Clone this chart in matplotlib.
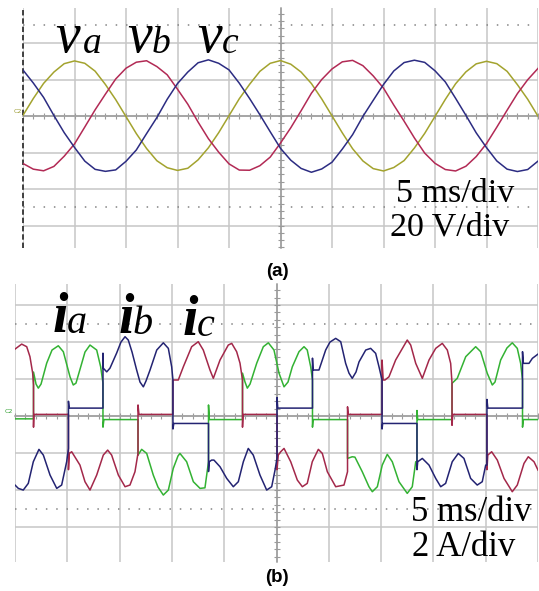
import matplotlib
matplotlib.use("Agg")
import matplotlib.pyplot as plt
from matplotlib.ticker import MultipleLocator

# ---------------- data ----------------
# (a) phase voltages, sampled every 1 ms over 10 divisions (5 ms/div), volts
t_v = list(range(0, 51))
v_a = [0.4, 9.6, 17.9, 24.1, 28.7, 30.2, 28.9, 24.6, 17.3, 9.0, -0.3, -9.6, -17.8, -24.5, -28.3, -29.8, -28.6, -24.0, -17.4, -9.1,
       0.2, 9.5, 17.4, 24.5, 28.9, 30.4, 28.4, 24.1, 17.8, 9.4, 0.1, -9.2, -17.9, -24.6, -28.8, -30.1, -28.2, -24.4, -17.5, -9.5,
       -0.2, 9.1, 17.7, 24.2, 28.6, 30.0, 28.7, 24.5, 17.2, 9.2, -0.1]
v_b = [-26.0, -29.1, -30.0, -27.6, -22.0, -15.3, -6.0, 3.4, 12.0, 20.3, 26.2, 29.5, 30.3, 27.1, 22.6, 14.7, 6.5, -3.3, -12.4, -19.8,
       -26.2, -29.6, -29.7, -27.2, -22.5, -14.8, -6.4, 2.9, 12.5, 20.0, 25.8, 29.7, 30.5, 27.6, 22.0, 15.3, 6.0, -2.8, -12.0, -20.3,
       -25.9, -29.3, -30.1, -27.5, -22.2, -15.1, -6.1, 3.2, 12.3, 19.9, 26.1]
v_c = [25.2, 18.1, 10.2, 0.3, -9.1, -17.2, -24.7, -29.2, -30.3, -29.5, -24.8, -18.6, -9.6, -0.8, 9.2, 17.8, 24.1, 29.2, 30.8, 28.9,
       25.3, 18.0, 9.6, 0.7, -8.6, -17.7, -24.2, -28.7, -30.8, -29.0, -25.3, -18.1, -10.2, -0.2, 8.6, 17.3, 24.7, 29.3, 30.6, 29.4,
       24.8, 18.7, 9.7, 0.4, -9.2, -17.3, -24.6, -29.1, -30.4, -29.3, -24.7]

# (b) phase currents (ms, A); repeated times are the switching edges
t_ia = [0.00, 1.77, 1.77, 2.01, 2.23, 2.49, 3.03, 3.54, 4.14, 4.62, 5.26, 5.57, 5.83, 6.38, 6.69, 7.17, 7.81, 8.19, 8.41, 8.41, 8.50,
        11.76, 11.76, 12.11, 12.59, 13.22, 13.67, 14.18, 14.66, 15.13, 15.58, 15.77, 16.41, 17.05, 17.69, 18.16, 18.50, 18.50, 18.58,
        21.75, 21.75, 21.99, 22.21, 22.47, 23.11, 23.74, 24.22, 24.76, 25.24, 25.72, 26.10, 26.51, 27.15, 27.63, 27.94, 28.27, 28.44, 28.44, 28.50,
        31.79, 31.79, 32.24, 32.50, 33.20, 33.84, 34.16, 34.64, 35.11, 35.59, 36.07, 36.71, 37.50, 37.98, 38.31, 38.43, 38.43, 38.50,
        41.78, 41.78, 42.28, 43.09, 44.04, 44.52, 45.15, 45.63, 45.89, 46.43, 47.03, 47.54, 48.02, 48.34, 48.52, 48.52, 48.60, 50.00]
i_a = [-0.15, -0.15, 2.38, 1.73, 1.51, 1.73, 2.86, 3.57, 3.80, 3.48, 2.12, 1.68, 1.78, 2.85, 3.46, 3.84, 3.57, 2.66, 1.78, -0.60, -0.19,
       -0.19, -2.11, -1.80, -2.02, -3.19, -3.84, -4.27, -4.00, -2.83, -2.16, -2.02, -2.47, -3.55, -3.91, -3.88, -2.47, 0.60, -0.19,
       -0.19, 2.32, 1.84, 1.51, 1.73, 2.86, 3.75, 3.96, 3.57, 2.32, 1.58, 1.84, 2.66, 3.48, 3.75, 3.57, 2.66, 1.95, -0.60, -0.19,
       -0.19, -2.29, -2.20, -2.22, -3.01, -3.82, -4.09, -3.82, -2.65, -2.07, -2.47, -3.55, -4.18, -3.82, -2.47, -2.47, 0.30, -0.19,
       -0.19, 1.77, 2.04, 3.21, 3.75, 3.48, 2.31, 1.68, 1.84, 3.03, 3.68, 3.96, 3.66, 2.85, 1.95, -0.60, -0.19, -0.19]

t_ib = [0.00, 0.32, 0.79, 1.27, 1.75, 2.29, 2.71, 3.35, 3.99, 4.46, 4.94, 5.11, 5.11, 5.18,
        8.41, 8.41, 8.44, 8.77, 9.08, 9.72, 10.13, 10.52, 10.83, 11.19, 11.63, 11.95, 12.27, 12.52, 12.91, 13.55, 14.18, 14.66, 14.98, 15.10, 15.10, 15.18,
        18.50, 18.50, 18.57, 18.80, 19.02, 19.60, 20.24, 20.87, 21.35, 21.83, 22.30, 22.78, 23.42, 24.06, 24.54, 24.86, 25.05, 25.05, 25.12,
        28.44, 28.44, 28.50, 29.06, 29.70, 30.11, 30.66, 31.14, 31.61, 31.93, 32.24, 32.60, 32.89, 33.53, 34.00, 34.48, 34.80, 35.09, 35.09, 35.15,
        38.43, 38.43, 38.50, 38.94, 39.58, 40.22, 40.70, 41.17, 41.80, 42.38, 42.92, 43.56, 44.19, 44.67, 45.00, 45.12, 45.12, 45.20,
        48.52, 48.52, 48.60, 49.14, 49.46, 50.00]
i_b = [-3.73, -3.91, -4.00, -3.64, -2.47, -1.80, -2.11, -3.19, -3.91, -3.73, -2.47, -1.75, 0.80, 0.43,
       0.43, 3.40, 2.59, 2.39, 2.59, 3.41, 4.00, 4.29, 4.11, 3.46, 2.49, 1.84, 1.58, 1.89, 2.49, 3.57, 3.96, 3.66, 2.66, 1.95, -0.70, -0.40,
       -0.40, -3.00, -2.47, -2.38, -2.38, -2.74, -3.37, -3.82, -3.55, -2.47, -1.75, -2.11, -3.19, -4.00, -3.82, -2.92, -2.27, 1.00, 0.43,
       0.43, 3.13, 2.49, 2.49, 3.57, 4.00, 4.20, 4.02, 2.85, 2.32, 2.04, 2.38, 2.93, 3.57, 3.66, 3.39, 2.66, 1.95, -0.70, -0.40,
       -0.40, -2.90, -2.47, -2.29, -2.65, -3.37, -3.82, -3.64, -2.47, -2.02, -2.29, -3.37, -3.73, -3.55, -2.65, -2.65, 0.90, 0.43,
       0.43, 3.48, 2.85, 2.85, 3.12, 3.35]

t_ic = [0.00, 0.64, 1.12, 1.43, 1.69, 1.77, 1.77, 1.80,
        5.11, 5.11, 5.19, 5.42, 6.21, 6.69, 7.17, 7.81, 8.44, 8.86, 9.24, 9.88, 10.52, 10.99, 11.47, 11.73, 11.76, 11.76, 11.85,
        15.10, 15.10, 15.61, 16.09, 16.89, 17.52, 18.00, 18.64, 18.96, 19.60, 20.39, 20.72, 21.19, 21.51, 21.75, 21.75, 21.80,
        25.05, 25.05, 25.17, 25.40, 25.72, 26.36, 26.99, 27.47, 27.94, 28.42, 29.00, 29.38, 29.86, 30.66, 31.45, 31.79, 31.79, 31.85,
        35.09, 35.09, 35.20, 35.37, 35.75, 36.39, 37.50, 37.83, 38.31, 38.94, 39.58, 40.22, 40.85, 41.33, 41.65, 41.78, 41.78, 41.85,
        45.12, 45.12, 45.20, 45.57, 46.11, 46.75, 47.54, 48.02, 48.66, 49.07, 49.62, 50.00]
i_c = [3.62, 3.89, 3.75, 3.21, 2.32, 1.68, -0.60, 0.09,
       0.09, -2.90, -2.02, -1.93, -2.65, -3.55, -4.00, -3.19, -2.11, -1.84, -2.11, -3.19, -3.82, -3.73, -3.01, -2.11, -2.11, 0.60, 0.09,
       0.09, 1.95, 1.95, 2.66, 3.75, 4.02, 3.57, 2.49, 2.04, 3.03, 3.84, 3.93, 3.48, 2.86, 1.95, -0.60, 0.09,
       0.09, -2.90, -2.11, -1.93, -1.75, -2.47, -3.46, -3.82, -3.64, -2.47, -1.80, -2.02, -3.01, -3.82, -3.73, -3.01, 0.50, 0.09,
       0.09, 3.03, 1.95, 1.95, 2.12, 3.03, 4.11, 3.84, 2.85, 2.04, 3.03, 3.66, 3.93, 3.57, 2.85, 1.78, -0.50, 0.09,
       0.09, -2.90, -2.11, -1.93, -2.38, -3.37, -4.09, -3.73, -2.56, -2.20, -2.47, -2.92]

# ---------------- styling ----------------
W, H = 539, 591
GRID = "#c6c6c6"
AXIS = "#9a9a9a"
SERIF = "Liberation Serif"


def fx(px):
    return px / W


def fy(py):
    return 1 - py / H


def scope_screen(ax, ydiv, ylim):
    ax.set_xlim(0, 50)
    ax.set_ylim(*ylim)
    ax.xaxis.set_major_locator(MultipleLocator(5))
    ax.xaxis.set_minor_locator(MultipleLocator(1))
    ax.yaxis.set_major_locator(MultipleLocator(ydiv))
    ax.yaxis.set_minor_locator(MultipleLocator(ydiv / 5))
    ax.grid(True, which="major", color=GRID, lw=1.1)
    ax.set_axisbelow(True)
    for s in ("top", "right"):
        ax.spines[s].set_visible(False)
    ax.spines["bottom"].set_position(("data", 0))
    ax.spines["left"].set_position(("data", 25))
    for s in ("bottom", "left"):
        ax.spines[s].set_color(AXIS)
        ax.spines[s].set_linewidth(1.1)
        ax.spines[s].set_zorder(1)
    ax.tick_params(which="both", direction="inout", length=4.5, width=0.8,
                   color=AXIS, labelbottom=False, labelleft=False)
    for yv in (2.5 * ydiv, -2.5 * ydiv):
        ax.axhline(yv, color="#8c8c8c", lw=1.2, ls=(0, (0.9, 5.28)), zorder=1)
    ax.patch.set_alpha(0)


fig = plt.figure(figsize=(W / 100, H / 100), dpi=100)

# ---- (a) voltages ----
ax1 = fig.add_axes([fx(23), fy(248), fx(538) - fx(23), fy(8) - fy(248)])
scope_screen(ax1, 20, (-72.3, 59.2))
ax1.axvline(0, color="#333333", lw=1.3, ls=(0, (3, 1.6)), clip_on=False, zorder=2)
ax1.plot(t_v, v_a, color="#a3a32e", lw=1.1, zorder=3)
ax1.plot(t_v, v_b, color="#b22a55", lw=1.1, zorder=3)
ax1.plot(t_v, v_c, color="#2c2c82", lw=1.1, zorder=3)

# ---- (b) currents ----
ax2 = fig.add_axes([fx(15), fy(562), fx(538) - fx(15), fy(284) - fy(562)])
scope_screen(ax2, 2, (-7.89, 7.14))
ax2.plot(t_ia, i_a, color="#33b233", lw=1.1, zorder=3)
ax2.plot(t_ic, i_c, color="#a3284a", lw=1.1, zorder=3)
ax2.plot(t_ib, i_b, color="#232372", lw=1.1, zorder=4)

# channel markers
fig.text(fx(22), fy(113), "C2", fontsize=4.5, color="#9a9a30", ha="right", va="baseline")
fig.text(fx(13), fy(413), "C2", fontsize=4.5, color="#30a030", ha="right", va="baseline")

# phase labels
big = dict(family=SERIF, style="italic", color="black", va="baseline", ha="left")
for name, sub, xv, xs in (("v", "a", 55, 83), ("v", "b", 127, 152), ("v", "c", 197, 222)):
    fig.text(fx(xv), fy(52), name, fontsize=40, **big)
    fig.text(fx(xs), fy(53), sub, fontsize=27, **big)
for name, sub, xi, xs, yb in (("i", "a", 53, 67, 332), ("i", "b", 119, 133, 333), ("i", "c", 183, 197, 335)):
    fig.text(fx(xi), fy(yb), name, fontsize=40, weight="bold", **big)
    fig.text(fx(xs), fy(yb + 1), sub, fontsize=29, **big)

# scale annotations
sc = dict(family=SERIF, color="black", va="baseline", ha="left")
fig.text(fx(396), fy(202), "5 ms/div", fontsize=24.5, **sc)
fig.text(fx(390), fy(236), "20 V/div", fontsize=24.5, **sc)
fig.text(fx(411), fy(521), "5 ms/div", fontsize=25, **sc)
fig.text(fx(412), fy(556), "2 A/div", fontsize=25, **sc)

# sub-figure captions
cap = dict(family="Liberation Sans", weight="bold", fontsize=13.5, ha="center", va="center")
fig.text(fx(277), fy(271), "(a)", **cap)
fig.text(fx(277), fy(578), "(b)", **cap)

fig.savefig("out.png", dpi=100, facecolor="white")
